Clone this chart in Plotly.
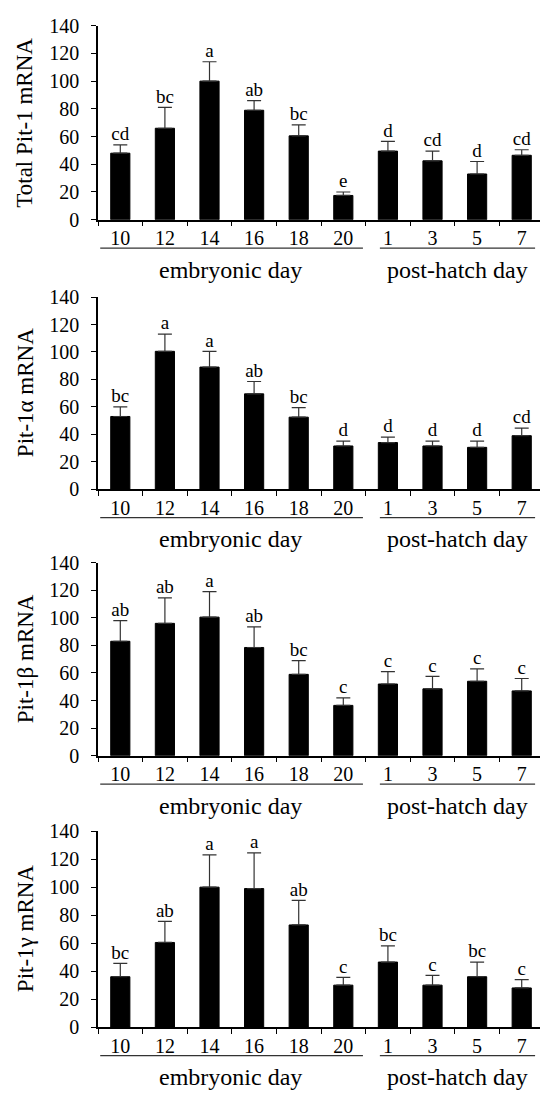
import plotly.graph_objects as go

days = ["10", "12", "14", "16", "18", "20", "1", "3", "5", "7"]

total_mean = [48, 66, 100, 79, 60.5, 17.5, 49.5, 42.5, 33, 46.5]
total_err = [6, 15, 14, 7, 8, 2.5, 7, 7, 9, 4]
total_sig = ["cd", "bc", "a", "ab", "bc", "e", "d", "cd", "d", "cd"]

alpha_mean = [53, 100.5, 89, 69.5, 52.5, 31.5, 34, 31.5, 30.5, 39]
alpha_err = [7, 12.5, 11.5, 9, 7, 3.5, 4, 3.5, 4.5, 5.5]
alpha_sig = ["bc", "a", "a", "ab", "bc", "d", "d", "d", "d", "cd"]

beta_mean = [83, 96, 100.5, 78.5, 59, 36.5, 52, 48.5, 54, 47]
beta_err = [15, 18.5, 18.5, 15, 10, 5.5, 9, 9, 9, 9]
beta_sig = ["ab", "ab", "a", "ab", "bc", "c", "c", "c", "c", "c"]

gamma_mean = [36, 60.5, 100, 99, 73, 30, 46.5, 30, 36, 28]
gamma_err = [9.5, 15, 23, 25.5, 17.5, 5.5, 11.5, 7, 10.5, 6]
gamma_sig = ["bc", "ab", "a", "a", "ab", "c", "bc", "c", "bc", "c"]

titles = ["Total Pit-1 mRNA", "Pit-1α mRNA", "Pit-1β mRNA", "Pit-1γ mRNA"]
groups = ["embryonic day", "post-hatch day"]
y_ticks = [0, 20, 40, 60, 80, 100, 120, 140]

panels = [
    (total_mean, total_err, total_sig),
    (alpha_mean, alpha_err, alpha_sig),
    (beta_mean, beta_err, beta_sig),
    (gamma_mean, gamma_err, gamma_sig),
]

W, H = 540, 1094
tops = [15, 292, 563, 837]
bottoms = [213, 488, 760, 1037]
FONT = "Liberation Serif"

fig = go.Figure()
layout = dict(
    width=W, height=H,
    margin=dict(l=98, r=0, t=0, b=0),
    paper_bgcolor="white", plot_bgcolor="white",
    showlegend=False,
    font=dict(family=FONT, color="black"),
    bargap=0.57,
)
annotations = []
shapes = []

for i, (mean, err, sig) in enumerate(panels):
    n = "" if i == 0 else str(i + 1)
    xa, ya = "x" + n, "y" + n
    fig.add_trace(go.Bar(
        x=days, y=mean, xaxis=xa, yaxis=ya,
        marker=dict(color="black", line=dict(color="black", width=1)),
        width=0.43,
        error_y=dict(type="data", array=err, arrayminus=[0] * len(err),
                     symmetric=False, color="#333333", thickness=1.2, width=7),
    ))
    fig.add_trace(go.Scatter(
        x=days, y=[m + e for m, e in zip(mean, err)], xaxis=xa, yaxis=ya,
        mode="text", text=sig, textposition="top center",
        textfont=dict(family=FONT, size=19, color="black"),
        cliponaxis=False,
    ))
    d0 = 1 - bottoms[i] / H
    d1 = 1 - tops[i] / H
    hpx = bottoms[i] - tops[i]
    layout["xaxis" + n] = dict(
        domain=[0, 1], anchor=ya, type="category",
        range=[-0.5, 9.41],
        showline=True, linecolor="black", linewidth=1.5,
        ticks="outside", tickson="boundaries", ticklen=5, tickcolor="black",
        tickfont=dict(family=FONT, size=20, color="black"),
        showgrid=False, zeroline=False, fixedrange=True,
    )
    layout["yaxis" + n] = dict(
        domain=[d0, d1], anchor=xa, range=[0, 140],
        tickvals=y_ticks,
        showline=True, linecolor="black", linewidth=1.5,
        ticks="outside", ticklen=5, tickcolor="black",
        ticklabelstandoff=8,
        tickfont=dict(family=FONT, size=20, color="black"),
        showgrid=False, zeroline=False, fixedrange=True,
    )
    yd = ya + " domain"
    line_y = -29 / hpx
    text_y = -51 / hpx
    shapes.append(dict(type="line", xref=xa, yref=yd, x0=-0.45, x1=5.44,
                       y0=line_y, y1=line_y, line=dict(color="#333333", width=1.2)))
    shapes.append(dict(type="line", xref=xa, yref=yd, x0=5.82, x1=9.3,
                       y0=line_y, y1=line_y, line=dict(color="#333333", width=1.2)))
    annotations.append(dict(text=groups[0], xref=xa, yref=yd, x=2.48, y=text_y,
                            showarrow=False, xanchor="center", yanchor="middle",
                            font=dict(family=FONT, size=24, color="black")))
    annotations.append(dict(text=groups[1], xref=xa, yref=yd, x=7.55, y=text_y,
                            showarrow=False, xanchor="center", yanchor="middle",
                            font=dict(family=FONT, size=24, color="black")))
    annotations.append(dict(text=titles[i], xref="paper", yref=yd, x=0, y=0.5,
                            xshift=-73, textangle=-90, showarrow=False,
                            xanchor="center", yanchor="middle",
                            font=dict(family=FONT, size=23, color="black")))

layout["annotations"] = annotations
layout["shapes"] = shapes
fig.update_layout(**layout)
fig.write_html("out.html")
